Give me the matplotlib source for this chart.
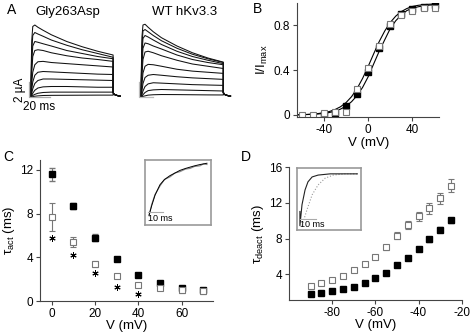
import matplotlib
matplotlib.use('Agg')
import matplotlib.pyplot as plt
import numpy as np

plt.rcParams['font.family'] = ['Liberation Sans', 'DejaVu Sans']
plt.rcParams['mathtext.default'] = 'regular'
plt.rcParams['axes.unicode_minus'] = False

# ---- panel A: current traces (uA) at these times (ms)
t_trace = [0, 1, 2, 4, 7, 12, 20, 35, 50, 65, 80]
t_tail = [80.01, 81, 84, 87]
gly_traces = [
    [0, 7.5, 9.4, 9.6, 9.3, 8.9, 8.3, 7.4, 6.7, 6.1, 5.6],
    [0, 6.0, 8.2, 8.6, 8.4, 8.1, 7.6, 6.9, 6.3, 5.8, 5.3],
    [0, 4.5, 6.8, 7.4, 7.3, 7.1, 6.8, 6.2, 5.8, 5.4, 5.1],
    [0, 3.2, 5.4, 6.2, 6.3, 6.2, 5.9, 5.5, 5.2, 5.0, 4.75],
    [0, 1.8, 3.3, 4.3, 4.7, 4.75, 4.6, 4.45, 4.3, 4.15, 4.0],
    [0, 1.0, 2.0, 2.9, 3.3, 3.4, 3.35, 3.25, 3.15, 3.05, 3.0],
    [0, 0.5, 1.1, 1.8, 2.2, 2.4, 2.4, 2.35, 2.3, 2.25, 2.2],
    [0, 0.2, 0.5, 0.9, 1.2, 1.35, 1.4, 1.4, 1.35, 1.3, 1.3],
    [0, 0.1, 0.2, 0.35, 0.5, 0.6, 0.65, 0.65, 0.65, 0.65, 0.65],
    [0, 0.02, 0.05, 0.1, 0.15, 0.2, 0.22, 0.23, 0.24, 0.25, 0.25],
]
wt_traces = [
    [0, 8.0, 9.6, 9.7, 9.3, 8.7, 7.9, 6.8, 5.9, 5.2, 4.65],
    [0, 6.8, 8.8, 9.0, 8.7, 8.2, 7.5, 6.5, 5.7, 5.1, 4.6],
    [0, 5.5, 7.8, 8.2, 8.0, 7.6, 7.0, 6.1, 5.4, 4.9, 4.45],
    [0, 4.0, 6.5, 7.2, 7.1, 6.8, 6.4, 5.6, 5.0, 4.6, 4.3],
    [0, 2.8, 5.0, 6.0, 6.1, 5.9, 5.5, 4.9, 4.4, 4.1, 3.8],
    [0, 1.6, 3.2, 4.1, 4.35, 4.3, 4.1, 3.7, 3.45, 3.3, 3.15],
    [0, 0.8, 1.8, 2.6, 2.9, 3.0, 2.9, 2.7, 2.55, 2.45, 2.35],
    [0, 0.3, 0.8, 1.4, 1.75, 1.9, 1.85, 1.75, 1.65, 1.6, 1.55],
    [0, 0.1, 0.3, 0.6, 0.85, 0.95, 1.0, 0.95, 0.9, 0.85, 0.8],
    [0, 0.03, 0.08, 0.15, 0.25, 0.3, 0.33, 0.32, 0.3, 0.28, 0.27],
]
tail_vals = [0.6, 0.35, 0.2, 0.1]

# ---- panel B: normalized conductance
v_b = [-60, -50, -40, -30, -20, -10, 0, 10, 20, 30, 40, 50, 60]
b_filled = [np.nan, np.nan, 0.0, 0.02, 0.08, 0.19, 0.38, 0.6, 0.79, 0.9, 0.94, 0.96, 0.98]
b_open = [0.0, 0.0, 0.02, 0.03, 0.03, 0.23, 0.42, 0.61, 0.81, 0.89, 0.93, 0.95, 0.95]
v_fit = [-65, -60, -55, -50, -45, -40, -35, -30, -25, -20, -15, -10, -5, 0,
         5, 10, 15, 20, 25, 30, 35, 40, 45, 50, 55, 60, 65]
fit_1 = [0.002, 0.003, 0.005, 0.008, 0.013, 0.02, 0.031, 0.048, 0.073, 0.11, 0.163,
         0.235, 0.326, 0.432, 0.545, 0.654, 0.748, 0.824, 0.881, 0.921, 0.948, 0.966,
         0.976, 0.982, 0.986, 0.988, 0.99]
fit_2 = [0.001, 0.002, 0.004, 0.006, 0.009, 0.014, 0.022, 0.034, 0.052, 0.079, 0.118,
         0.173, 0.246, 0.34, 0.455, 0.568, 0.67, 0.77, 0.84, 0.89, 0.93, 0.95,
         0.963, 0.972, 0.978, 0.982, 0.985]

# ---- panel C: activation time constants
v_c = [0, 10, 20, 30, 40, 50, 60, 70]
tact_filled = [11.6, 8.7, 5.8, 3.9, 2.4, 1.7, 1.2, 1.0]
tact_filled_err = [0.6, 0.3, 0.3, 0.15, 0.15, 0.15, 0.2, 0.2]
tact_open = [7.7, 5.4, 3.4, 2.3, 1.5, 1.2, 1.0, 0.9]
tact_open_err = [1.3, 0.45, 0.25, 0.15, 0.15, 0.15, 0.2, 0.2]
v_star = [0, 10, 20, 30, 40]
star_y = [5.75, 4.25, 2.6, 1.35, 0.65]
# inset C (normalized)
ins_c_t = [2.7, 4.5, 6.7, 10, 13, 16.7, 20, 23.3, 27, 30, 33, 36.7, 39, 41.3]
ins_c_data = [0.15, 0.32, 0.47, 0.6, 0.7, 0.74, 0.8, 0.82, 0.86, 0.87, 0.9, 0.91, 0.94, 0.93]
ins_c_fit = [0.15, 0.3, 0.46, 0.62, 0.7, 0.76, 0.8, 0.84, 0.87, 0.89, 0.91, 0.93, 0.94, 0.95]

# ---- panel D: deactivation time constants
v_d = [-90, -85, -80, -75, -70, -65, -60, -55, -50, -45, -40, -35, -30, -25]
tdeact_filled = [1.76, 1.9, 2.13, 2.28, 2.54, 3.03, 3.52, 4.07, 5.0, 5.8, 6.8, 7.9, 9.0, 10.05]
tdeact_filled_err = [0.1, 0.1, 0.15, 0.15, 0.15, 0.15, 0.2, 0.15, 0.2, 0.2, 0.2, 0.3, 0.25, 0.3]
tdeact_open = [2.65, 2.95, 3.3, 3.74, 4.5, 5.15, 5.9, 7.0, 8.3, 9.5, 10.5, 11.4, 12.5, 13.95]
tdeact_open_err = [0.15, 0.15, 0.15, 0.15, 0.2, 0.2, 0.2, 0.3, 0.4, 0.45, 0.5, 0.6, 0.6, 0.7]
# inset D (normalized)
ins_d_t1 = [2, 2, 3.3, 5.2, 7, 9.6, 13.3, 20.8, 28, 37.7]
ins_d_y1 = [0.3, 0.07, 0.41, 0.65, 0.78, 0.86, 0.89, 0.91, 0.91, 0.91]
ins_d_t2 = [3.3, 6.4, 9.6, 13.3, 17.7, 22.7, 30, 37.7]
ins_d_y2 = [0.07, 0.33, 0.57, 0.73, 0.84, 0.89, 0.91, 0.91]

W, H = 472, 334
fig = plt.figure(figsize=(W / 100, H / 100), dpi=100)


def box(l, t, r, b):
    return [l / W, 1 - b / H, (r - l) / W, (b - t) / H]


def ftext(x, y, s, **kw):
    fig.text(x / W, 1 - y / H, s, **kw)


def style(ax):
    for s in ['top', 'right']:
        ax.spines[s].set_visible(False)
    for s in ['left', 'bottom']:
        ax.spines[s].set_color('#444444')
        ax.spines[s].set_linewidth(0.8)
    ax.tick_params(direction='out', length=3, width=0.8, labelsize=8.5, pad=2,
                   color='#444444')


grey = '#777777'

# ---------------- A
axA = fig.add_axes(box(25, 15, 235, 115))
axA.axis('off')
ms_px, ua_px = 1.03, 7.5
axA.set_xlim(-(30.7 - 25) / ms_px, -(30.7 - 25) / ms_px + 210 / ms_px)
axA.set_ylim(-(115 - 97) / ua_px, (97 - 15) / ua_px)
wt_off = 107
for tr in gly_traces:
    axA.plot(t_trace + t_tail, tr + tail_vals, color='#111111', lw=0.75)
for tr in wt_traces:
    axA.plot(np.array(t_trace + t_tail) + wt_off, tr + tail_vals, color='#111111', lw=0.75)
axA.plot([-1.5, -1.5, 19], [2, -0.05, -0.05], color='#aaaaaa', lw=0.9)
axA.plot([wt_off - 1.5, wt_off - 1.5, wt_off + 12], [2, -0.05, -0.05], color='#bbbbbb', lw=0.9)
ftext(20, 90, '2 µA', rotation=90, ha='center', va='center', fontsize=8.5)
ftext(39, 107, '20 ms', ha='center', va='center', fontsize=8.5)
ftext(68, 12, 'Gly263Asp', ha='center', va='center', fontsize=9.5)
ftext(185, 12, 'WT hKv3.3', ha='center', va='center', fontsize=9.5)
ftext(12, 10, 'A', ha='center', va='center', fontsize=10)

# ---------------- B
axB = fig.add_axes(box(297.3, 3, 439, 117))
style(axB)
axB.plot(v_fit, fit_1, color='k', lw=0.8)
axB.plot(v_fit, fit_2, color='k', lw=0.8)
axB.plot(v_b, b_filled, 's', ms=4.3, color='k')
axB.plot(v_b, b_open, 's', ms=4.3, mfc='white', mec=grey, mew=0.8)
axB.set_xlim(-64, 64)
axB.set_ylim(-0.018, 0.997)
axB.set_xticks([-40, 0, 40])
axB.set_yticks([0, 0.4, 0.8])
axB.set_yticklabels(['0', '0.4', '0.8'])
axB.set_xlabel('V (mV)', fontsize=9.5, labelpad=0.5)
axB.set_ylabel('I/I$_{max}$', fontsize=9.5, labelpad=3)
ftext(257, 9, 'B', ha='center', va='center', fontsize=10)

# ---------------- C
axC = fig.add_axes(box(40, 160, 213, 301.3))
style(axC)
axC.errorbar(v_c, tact_filled, yerr=tact_filled_err, fmt='s', ms=5, color='k',
             ecolor=grey, elinewidth=0.8, capsize=2)
axC.errorbar(v_c, tact_open, yerr=tact_open_err, fmt='s', ms=5, mfc='white', mec=grey,
             mew=0.8, ecolor=grey, elinewidth=0.8, capsize=2)
axC.plot(v_star, star_y, ls='none', marker=(6, 2, 0), ms=4.5, color='k', mew=0.7)
axC.set_xlim(-5.4, 74.5)
axC.set_ylim(0, 12.9)
axC.set_xticks([0, 20, 40, 60])
axC.set_yticks([0, 4, 8, 12])
axC.set_xlabel('V (mV)', fontsize=9.5, labelpad=0)
axC.set_ylabel('τ$_{act}$ (ms)', fontsize=9.5, labelpad=2)
ftext(8, 157, 'C', ha='center', va='center', fontsize=10)

insC = fig.add_axes(box(145, 160, 211, 225))
insC.set_xticks([])
insC.set_yticks([])
for s in insC.spines.values():
    s.set_color('#999999')
    s.set_linewidth(1.2)
insC.set_xlim(0, 44)
insC.set_ylim(0, 1)
insC.plot(ins_c_t, ins_c_data, color='#888888', lw=0.8)
insC.plot(ins_c_t, ins_c_fit, color='k', lw=0.7)
insC.plot([2, 12], [0.2, 0.2], color='#aaaaaa', lw=0.8)
insC.text(2, 0.1, '10 ms', fontsize=6.5, va='center')

# ---------------- D
axD = fig.add_axes(box(289, 167.3, 461.7, 300))
style(axD)
axD.errorbar(v_d, tdeact_filled, yerr=tdeact_filled_err, fmt='s', ms=4.6, color='k',
             ecolor=grey, elinewidth=0.8, capsize=2)
axD.errorbar(v_d, tdeact_open, yerr=tdeact_open_err, fmt='s', ms=4.6, mfc='white', mec=grey,
             mew=0.8, ecolor=grey, elinewidth=0.8, capsize=2)
axD.set_xlim(-100, -20)
axD.set_ylim(1.09, 16)
axD.set_xticks([-80, -60, -40, -20])
axD.set_yticks([4, 8, 12, 16])
axD.set_xlabel('V (mV)', fontsize=9.5, labelpad=0)
axD.set_ylabel('τ$_{deact}$ (ms)', fontsize=9.5, labelpad=2)
ftext(246, 157, 'D', ha='center', va='center', fontsize=10)

insD = fig.add_axes(box(296.7, 168.3, 361, 230))
insD.set_xticks([])
insD.set_yticks([])
for s in insD.spines.values():
    s.set_color('#999999')
    s.set_linewidth(1.2)
insD.set_xlim(0, 40)
insD.set_ylim(0, 1)
insD.plot(ins_d_t2, ins_d_y2, color='#999999', lw=0.8, ls=':')
insD.plot(ins_d_t1, ins_d_y1, color='#222222', lw=0.8)
insD.plot([2, 12], [0.18, 0.18], color='#aaaaaa', lw=0.8)
insD.text(2, 0.09, '10 ms', fontsize=6.5, va='center')

fig.savefig('out.png', dpi=100)
